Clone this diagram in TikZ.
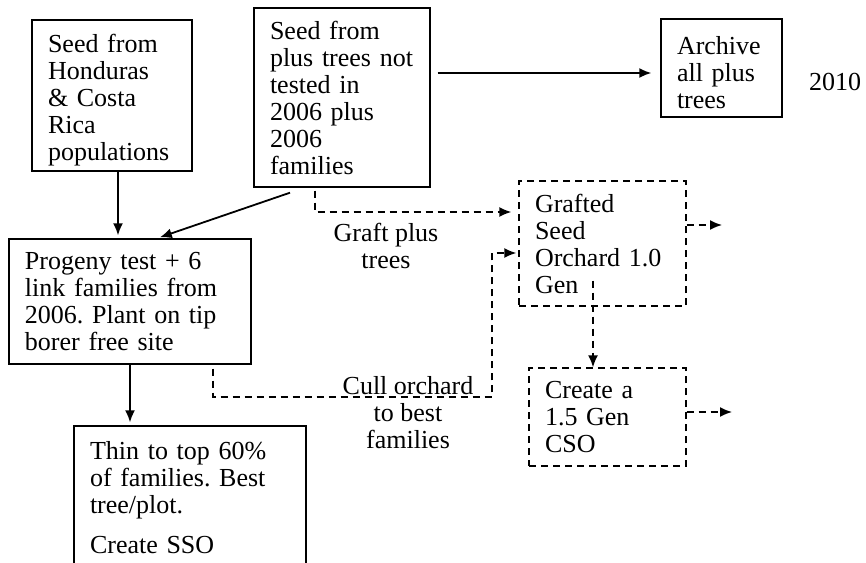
\documentclass[tikz,border=0pt]{standalone}
\usepackage{fontspec}
\setmainfont{Liberation Serif}
\frenchspacing
\usetikzlibrary{arrows.meta}
\usetikzlibrary{calc}
\usetikzlibrary{positioning}
\tikzset{every picture/.style={>={Latex[length=6pt,width=5pt]}}}
\tikzstyle{block}    = [draw, line width=0.7pt, rectangle, align=left, inner xsep=8pt, inner ysep=0pt, font=\fontsize{13}{13.5}\selectfont]
\tikzstyle{dblock}   = [block, dash pattern=on 3.5pt off 2.5pt]
\tikzstyle{lower}    = [execute at begin node={\rule{0pt}{14pt}}]
\tikzstyle{to}       = [->, line width=0.9pt, shorten >=1.5pt]
\tikzstyle{dto}      = [->, line width=0.8pt, dash pattern=on 3.5pt off 2.5pt]
\tikzstyle{note}     = [align=center, inner sep=0pt, font=\fontsize{13}{13.5}\selectfont]
\tikzstyle{terminal} = [coordinate]

\begin{document}
\begin{tikzpicture}[x=0.5pt, y=-0.5pt]
	\useasboundingbox (0,0) rectangle (866,562);
	\clip (0,0) rectangle (866,562);
	\node[block, lower, text width=64pt, minimum height=75.5pt]		(Honduras)	at (112,95.5)		{Seed from\\ Honduras\\ \& Costa\\ Rica\\ populations};
	\node[block, text width=72pt, minimum height=89.5pt]		(Plus)			at (342,97.5)		{Seed from\\ plus trees not\\ tested in\\ 2006 plus\\ 2006\\ families};
	\node[block, lower, text width=44.5pt, minimum height=49pt]		(Archive)		at (721.5,68)		{Archive\\ all plus\\ trees};
	\node[note]																						(Jahr)			at (835,82)			{2010};
	\node[block, text width=105pt, minimum height=62.5pt]		(Progeny)		at (130,301.5)	{Progeny test + 6\\ link families from\\ 2006. Plant on tip\\ borer free site};
	\node[block, text width=100pt, minimum height=71.5pt]		(Thin)			at (190,497.5)	{Thin to top 60\%\\ of families. Best\\ tree/plot.\\[6.5pt] Create SSO};
	\node[dblock, text width=67.5pt, minimum height=62.5pt]	(Orchard)		at (602.5,243.5){Grafted\\ Seed\\ Orchard 1.0\\ Gen};
	\node[dblock, text width=62.5pt, minimum height=49pt]		(CSO)				at (607.5,417)	{Create a\\ 1.5 Gen\\ CSO};
	\node[note]																						(Graft)			at (386,246)		{Graft plus\\ trees};
	\node[note]																						(Cull)			at (408,413)		{Cull orchard\\ to best\\ families};
	\node[terminal]	(cull)	at (492,397)	{};
	\node[terminal]	(aus1)	at (722,225)	{};
	\node[terminal]	(aus2)	at (732,412)	{};
	
	
	\draw[to] ([xshift=3pt]Honduras.south) -- ([xshift=3pt]Honduras.south |- Progeny.north);
	\draw[to] ([xshift=-26pt,yshift=-2.5pt]Plus.south) -- ([xshift=13.5pt]Progeny.north);
	\draw[to, shorten <=3.5pt, shorten >=4.5pt] ([yshift=12.25pt]Plus.east) -- ([yshift=12.25pt]Plus.east -| Archive.west);
	\draw[to] (Progeny.south) -- (Progeny.south |- Thin.north);
	\draw[dto] ([xshift=-13.5pt,yshift=-1.5pt]Plus.south) |- ([xshift=-3.5pt,yshift=15.75pt]Orchard.west);
	\draw[dto] ([xshift=41.5pt,yshift=-2pt]Progeny.south) |- (cull) |- ([xshift=-1pt,yshift=-4.75pt]Orchard.west);
	\draw[dto] ([xshift=-4.75pt,yshift=13pt]Orchard.south) -- ([xshift=-4.75pt]Orchard.south |- CSO.north);
	\draw[dto] (Orchard.east |- aus1) -- (aus1);
	\draw[dto] (CSO.east |- aus2) -- (aus2);
\end{tikzpicture}
\end{document}
